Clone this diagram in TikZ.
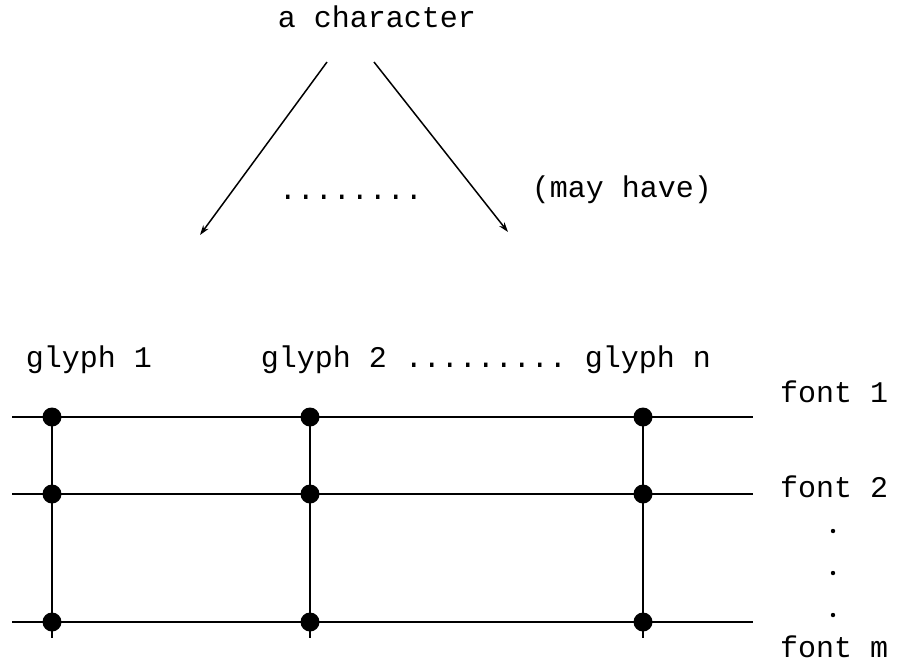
\documentclass[tikz,border=0pt]{standalone}
\usepackage{fontspec}
\setmonofont{Liberation Mono}
\usetikzlibrary{arrows.meta}

\begin{document}
\begin{tikzpicture}[x=1pt,y=-1pt,
	lbl/.style={font=\ttfamily\fontsize{30}{36}\selectfont,inner sep=0pt,anchor=base},
	hline/.style={line width=2.6pt},
	vline/.style={line width=1.5pt},
	joint/.style={circle,fill,inner sep=0pt,minimum size=19pt},
	pick/.style={-{Stealth[length=10pt,width=6.5pt]},line width=1.5pt}]
	\useasboundingbox (0,0) rectangle (899,665);
	% the character and its glyphs
	\node[lbl] (chr) at (377,27) {a character};
	\node[lbl] (cdots) at (351,199) {........};
	\node[lbl] (mayhave) at (622,197) {(may have)};
	\coordinate (la) at (327,62);
	\coordinate (lb) at (200,235);
	\coordinate (ra) at (374,62);
	\coordinate (rb) at (508,232);
	\draw[pick] (la) -- (lb);
	\draw[pick] (ra) -- (rb);
	\node[lbl] (glyph1) at (89,367) {glyph 1};
	\node[lbl] (glyph2) at (324,367) {glyph 2};
	\node[lbl] (gdots) at (486,367) {.........};
	\node[lbl] (glyphn) at (648,367) {glyph n};
	% fonts
	\node[lbl,anchor=base west] (font1) at (780,402) {font 1};
	\node[lbl,anchor=base west] (font2) at (780,497) {font 2};
	\node[lbl,anchor=base west] (fontm) at (780,657) {font m};
	\fill (833,531) circle (2.2pt) (833,573) circle (2.2pt) (833,615) circle (2.2pt);
	% grid
	\coordinate (f1w) at (12,417); \coordinate (f1e) at (753,417);
	\coordinate (f2w) at (12,494); \coordinate (f2e) at (753,494);
	\coordinate (fmw) at (12,622); \coordinate (fme) at (753,622);
	\coordinate (g1s) at (52,638); \coordinate (g2s) at (310,638); \coordinate (gns) at (643,638);
	\draw[hline] (f1w) -- (f1e);
	\draw[hline] (f2w) -- (f2e);
	\draw[hline] (fmw) -- (fme);
	\node[joint] (d11) at (52,417) {};
	\node[joint] (d12) at (310,417) {};
	\node[joint] (d1n) at (643,417) {};
	\node[joint] (d21) at (52,494) {};
	\node[joint] (d22) at (310,494) {};
	\node[joint] (d2n) at (643,494) {};
	\node[joint] (dm1) at (52,622) {};
	\node[joint] (dm2) at (310,622) {};
	\node[joint] (dmn) at (643,622) {};
	\draw[vline] (d11.center) -- (g1s);
	\draw[vline] (d12.center) -- (g2s);
	\draw[vline] (d1n.center) -- (gns);
\end{tikzpicture}
\end{document}
